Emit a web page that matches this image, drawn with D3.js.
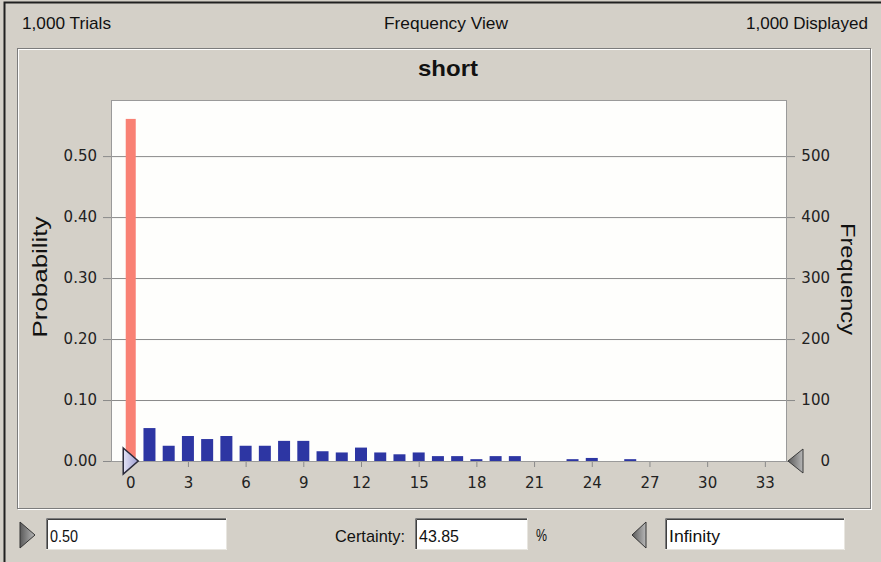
<!DOCTYPE html>
<html>
<head>
<meta charset="utf-8">
<script src="https://cdn.jsdelivr.net/npm/d3@7"></script>
<style>
  body { margin: 0; background: #d4d0c8; }
  svg { display: block; }
</style>
</head>
<body>
<svg width="881" height="562"></svg>
<script>
// values
var values = [0, 1, 2, 3, 4, 5, 6, 7, 8, 9, 10, 11, 12, 13, 14, 15, 16, 17, 18, 19, 20, 21, 22, 23, 24, 25, 26];
var probs = [0.561, 0.054, 0.025, 0.041, 0.036, 0.041, 0.025, 0.025, 0.033, 0.033, 0.016, 0.014, 0.022, 0.014, 0.011, 0.014, 0.008, 0.008, 0.003, 0.008, 0.008, 0, 0, 0.003, 0.005, 0, 0.003];
var xTicks = [0, 3, 6, 9, 12, 15, 18, 21, 24, 27, 30, 33];
var probTicks = [0, 0.1, 0.2, 0.3, 0.4, 0.5];
var freqTicks = [0, 100, 200, 300, 400, 500];
var trials = 1000;
var lowerBound = 0.5;
var certainty = 43.85;

var svg = d3.select("svg"),
  width = +svg.attr("width"),
  height = +svg.attr("height");

var plot = { left: 111, right: 786, top: 100, bottom: 461 };

var x = d3.scaleLinear().domain([-1, 34.1]).range([plot.left, plot.right]);
var y = d3.scaleLinear().domain([0, 0.592]).range([plot.bottom, plot.top]);
var yF = d3.scaleLinear().domain([0, 0.592 * trials]).range([plot.bottom, plot.top]);

var narrow = "'Liberation Sans', Arial, sans-serif";
var wide = "'DejaVu Sans', Verdana, sans-serif";

var defs = svg.append("defs");
var g1 = defs.append("linearGradient").attr("id", "lav").attr("x1", 0).attr("y1", 0).attr("x2", 1).attr("y2", 0);
g1.append("stop").attr("offset", 0).attr("stop-color", "#e4e4f6");
g1.append("stop").attr("offset", 1).attr("stop-color", "#9c9cd0");
var g2 = defs.append("linearGradient").attr("id", "gry").attr("x1", 0).attr("y1", 0).attr("x2", 1).attr("y2", 0);
g2.append("stop").attr("offset", 0).attr("stop-color", "#5a5a5a");
g2.append("stop").attr("offset", 1).attr("stop-color", "#b8b8b8");

// window background and edges
svg.append("rect").attr("width", width).attr("height", height).attr("fill", "#d4d0c8");
svg.append("path").attr("d", "M4.5,562V2.5H881").attr("fill", "none").attr("stroke", "#202020").attr("stroke-width", 2);

// header
function label(txt, px, py, anchor, size, len, weight) {
  var t = svg.append("text")
    .attr("x", px).attr("y", py)
    .attr("text-anchor", anchor)
    .style("font-family", narrow)
    .style("font-size", size + "px")
    .style("font-weight", weight || "normal")
    .style("fill", "#111")
    .text(txt);
  if (len) t.attr("textLength", len).attr("lengthAdjust", "spacingAndGlyphs");
  return t;
}
label("1,000 Trials", 22, 29, "start", 17, 89);
label("Frequency View", 446, 29, "middle", 17, 124);
label("1,000 Displayed", 868, 29, "end", 17, 122);

// etched panel
svg.append("rect").attr("x", 18.5).attr("y", 49.5).attr("width", 853).attr("height", 460)
  .attr("fill", "none").attr("stroke", "#fff");
svg.append("rect").attr("x", 17.5).attr("y", 48.5).attr("width", 853).attr("height", 460)
  .attr("fill", "none").attr("stroke", "#7c7c7c");

label("short", 448, 76, "middle", 22, 60, "bold");

// plot area
svg.append("rect")
  .attr("x", plot.left).attr("y", plot.top)
  .attr("width", plot.right - plot.left).attr("height", plot.bottom - plot.top)
  .attr("fill", "#fefefc");

// left axis with gridlines running across
var left = svg.append("g")
  .attr("transform", "translate(103,0)")
  .call(d3.axisLeft(y).tickValues(probTicks).tickFormat(d3.format(".2f"))
    .tickSize(-(795 - 103)).tickPadding(6));
left.select(".domain").remove();
left.selectAll(".tick line").attr("stroke", "#8a8a8a");
left.selectAll(".tick text").style("font-family", wide).style("font-size", "15px").style("fill", "#222");

// right axis
var right = svg.append("g")
  .attr("transform", "translate(795,0)")
  .call(d3.axisRight(yF).tickValues(freqTicks).tickSize(0).tickPadding(0));
right.select(".domain").remove();
right.selectAll(".tick text").attr("x", 35).attr("text-anchor", "end")
  .style("font-family", wide).style("font-size", "15px").style("fill", "#222");

// bottom axis
var bottom = svg.append("g")
  .attr("transform", "translate(0," + plot.bottom + ")")
  .call(d3.axisBottom(x).tickValues(xTicks).tickSize(6).tickPadding(10));
bottom.select(".domain").remove();
bottom.selectAll(".tick line").attr("stroke", "#8a8a8a");
bottom.selectAll(".tick text").style("font-family", wide).style("font-size", "15px").style("fill", "#222");

// bars
var bars = values.map(function (v, i) { return { v: v, p: probs[i] }; }).filter(function (d) { return d.p > 0; });
svg.append("g").selectAll("rect")
  .data(bars)
  .enter()
  .append("rect")
  .attr("x", function (d) { return d.v <= lowerBound ? x(d.v) - 4.5 : x(d.v) - 6; })
  .attr("width", function (d) { return d.v <= lowerBound ? 10 : 12; })
  .attr("y", function (d) { return y(d.p); })
  .attr("height", function (d) { return y(0) - y(d.p); })
  .attr("fill", function (d) { return d.v <= lowerBound ? "#f98174" : "#2d36a3"; });

// plot frame
svg.append("rect")
  .attr("x", plot.left + 0.5).attr("y", plot.top + 0.5)
  .attr("width", plot.right - plot.left).attr("height", plot.bottom - plot.top)
  .attr("fill", "none").attr("stroke", "#9a9a9a");

// grabbers at the ends of the certainty range
var bx = x(0), by = y(0);
svg.append("path")
  .attr("d", "M" + (bx - 7) + "," + (by - 13) + "L" + (bx + 8) + "," + by + "L" + (bx - 7) + "," + (by + 13) + "Z")
  .attr("fill", "url(#lav)").attr("stroke", "#2a2a3a").attr("stroke-width", 1.5);
svg.append("path")
  .attr("d", "M" + (plot.right + 17) + "," + (by - 12) + "L" + (plot.right + 2) + "," + by + "L" + (plot.right + 17) + "," + (by + 12) + "Z")
  .attr("fill", "url(#gry)").attr("stroke", "#3a3a3a").attr("stroke-width", 1);

// axis titles
label("Probability", 0, 0, "middle", 21, 121)
  .attr("transform", "translate(47,277) rotate(-90)");
label("Frequency", 0, 0, "middle", 21, 112)
  .attr("transform", "translate(841,279) rotate(90)");

// bottom controls
function box(bx0, bw, txt) {
  svg.append("rect").attr("x", bx0).attr("y", 518).attr("width", bw).attr("height", 32).attr("fill", "#fff");
  svg.append("path").attr("d", "M" + (bx0 + 0.5) + ",550V518.5H" + (bx0 + bw)).attr("fill", "none").attr("stroke", "#7c7c7c");
  svg.append("path").attr("d", "M" + (bx0 + 1.5) + ",549V519.5H" + (bx0 + bw - 1)).attr("fill", "none").attr("stroke", "#404040");
  svg.append("path").attr("d", "M" + bx0 + ",549.5H" + (bx0 + bw - 0.5) + "V518").attr("fill", "none").attr("stroke", "#e8e6e0");
  return label(txt, bx0 + 4, 542, "start", 17);
}
box(46, 181, d3.format(".2f")(lowerBound)).attr("textLength", 28).attr("lengthAdjust", "spacingAndGlyphs");
box(415, 113, d3.format(".2f")(certainty)).attr("textLength", 40).attr("lengthAdjust", "spacingAndGlyphs");
box(665, 180, "Infinity").attr("textLength", 51).attr("lengthAdjust", "spacingAndGlyphs");
label("Certainty:", 405, 542, "end", 17, 70);
label("%", 536, 541, "start", 17, 11);

svg.append("path").attr("d", "M20,522L35,535L20,548Z").attr("fill", "url(#gry)").attr("stroke", "#333");
svg.append("path").attr("d", "M646,522L632,535L646,548Z").attr("fill", "url(#gry)").attr("stroke", "#333");
</script>
</body>
</html>
